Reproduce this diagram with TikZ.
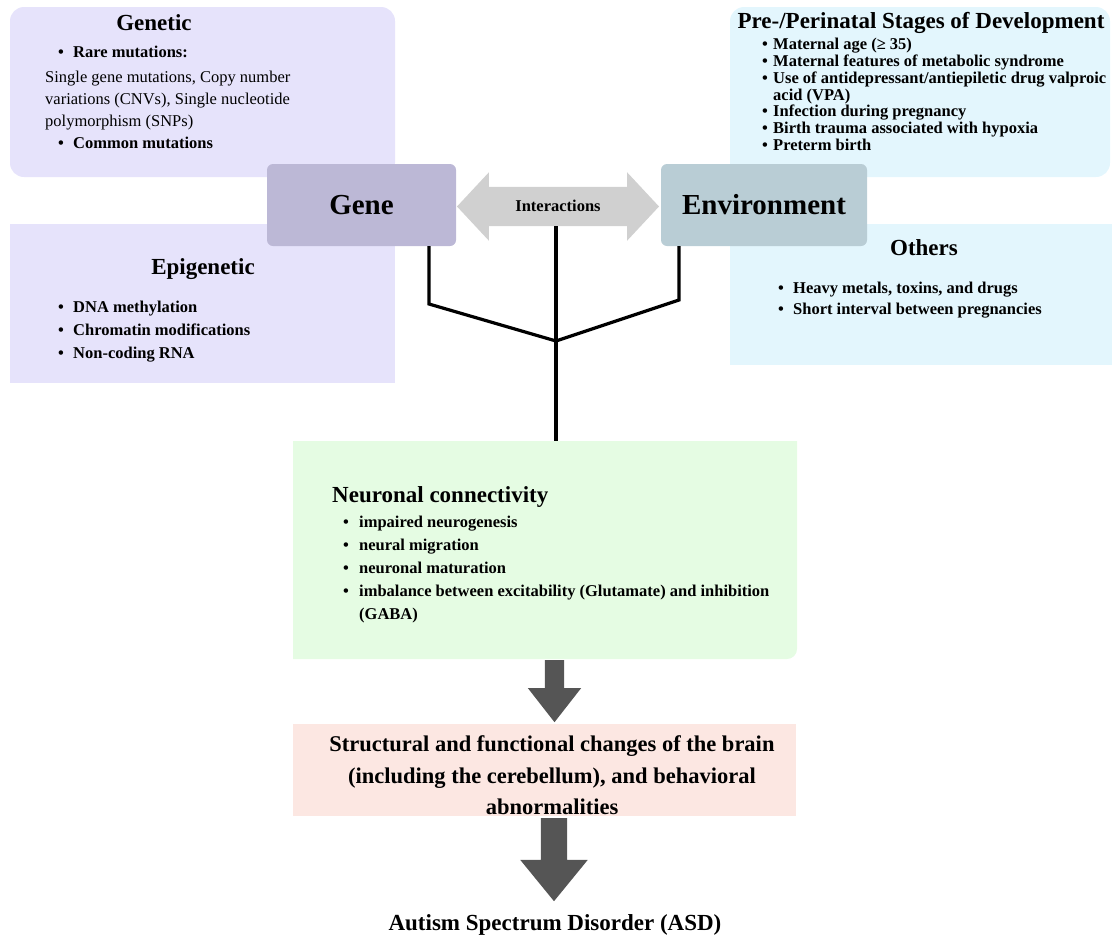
\documentclass[tikz,border=0pt]{standalone}
\usepackage{fontspec}
\setmainfont{Liberation Serif}
\usetikzlibrary{shapes.arrows,calc}
\definecolor{lavbg}{RGB}{230,227,251}
\definecolor{cyanbg}{RGB}{227,246,253}
\definecolor{genefill}{RGB}{188,184,214}
\definecolor{envfill}{RGB}{185,205,213}
\definecolor{greenbg}{RGB}{229,252,227}
\definecolor{pinkbg}{RGB}{252,231,226}
\definecolor{ixgray}{RGB}{208,208,208}
\definecolor{downgray}{RGB}{85,85,85}
\newcommand\setfs[1]{\fontsize{#1}{#1}\selectfont}
\newcommand\bul[1]{\makebox[#1][l]{\textbullet}}

\begin{document}
\begin{tikzpicture}[x=1pt,y=-1pt,
  panel/.style={anchor=north west, inner sep=0pt, outer sep=0pt, draw=none},
  keybox/.style={inner sep=0pt, outer sep=0pt, rounded corners=6pt,
    minimum height=82pt, font=\bfseries\setfs{29}},
  ttl/.style={anchor=base, inner sep=0pt, font=\bfseries\setfs{23}},
  ln/.style={anchor=base west, inner sep=0pt, font=\bfseries\setfs{16.5}},
  lnr/.style={anchor=base west, inner sep=0pt, font=\setfs{16.5}},
  bigln/.style={anchor=base, inner sep=0pt, font=\bfseries\setfs{22.5}},
  link/.style={line width=3.2pt},
  downarrow/.style={single arrow, rotate=-90, fill=downgray, inner xsep=0pt,
    anchor=tail}
]
\useasboundingbox (0,0) rectangle (1114,935);

% --- background panels ---
\node[panel, fill=lavbg, rounded corners=14pt, minimum width=385pt, minimum height=170pt] (genetic) at (10,7) {};
\node[panel, fill=lavbg, minimum width=385pt, minimum height=159pt] (epi) at (10,224) {};
\node[panel, fill=cyanbg, rounded corners=14pt, minimum width=380pt, minimum height=170pt] (pre) at (730,7) {};
\node[panel, fill=cyanbg, minimum width=382pt, minimum height=141pt] (others) at (730,224) {};
\node[panel, minimum width=504pt, minimum height=218pt] (neuro) at (293,441) {};
% neuronal panel: square corners except the lower right one
\fill[greenbg] (neuro.north west) -- (neuro.north east)
  -- ($(neuro.south east)+(0,-10)$) arc[start angle=0, end angle=-90, radius=10pt]
  -- (neuro.south west) -- cycle;
\node[panel, fill=pinkbg, minimum width=503pt, minimum height=92pt] (brain) at (293,724) {};

% --- Genetic ---
\node[ttl] (genT) at (154,30) {Genetic};
\node[ln]  (gen1) at (58,57) {\bul{15pt}Rare mutations:};
\node[lnr] (gen2) at (45,82) {Single gene mutations, Copy number};
\node[lnr] (gen3) at (45,104) {variations (CNVs), Single nucleotide};
\node[lnr] (gen4) at (45,126) {polymorphism (SNPs)};
\node[ln]  (gen5) at (58,148) {\bul{15pt}Common mutations};

% --- Epigenetic ---
\node[ttl] (epiT) at (203,274) {Epigenetic};
\node[ln] (epi1) at (58,312) {\bul{15pt}DNA methylation};
\node[ln] (epi2) at (58,335) {\bul{15pt}Chromatin modifications};
\node[ln] (epi3) at (58,358) {\bul{15pt}Non-coding RNA};

% --- Pre-/Perinatal ---
\node[ttl] (preT) at (921,28) {Pre-/Perinatal Stages of Development};
\node[ln] (pre1) at (762,49) {\bul{11pt}Maternal age (≥ 35)};
\node[ln] (pre2) at (762,66) {\bul{11pt}Maternal features of metabolic syndrome};
\node[ln] (pre3) at (762,83) {\bul{11pt}Use of antidepressant/antiepiletic drug valproic};
\node[ln] (pre4) at (773,100) {acid (VPA)};
\node[ln] (pre5) at (762,116) {\bul{11pt}Infection during pregnancy};
\node[ln] (pre6) at (762,133) {\bul{11pt}Birth trauma associated with hypoxia};
\node[ln] (pre7) at (762,150) {\bul{11pt}Preterm birth};

% --- Others ---
\node[ttl] (othT) at (924,255) {Others};
\node[ln] (oth1) at (778,293) {\bul{15pt}Heavy metals, toxins, and drugs};
\node[ln] (oth2) at (778,314) {\bul{15pt}Short interval between pregnancies};

% --- Gene / Environment and their interaction ---
\node[keybox, fill=genefill, minimum width=189pt] (gene) at (361.5,205) {Gene};
\node[keybox, fill=envfill, minimum width=206pt] (env) at (764,205) {Environment};
\node[double arrow, fill=ixgray, font=\bfseries\setfs{16.5}, inner xsep=0pt,
  inner ysep=12pt, text height=12pt, text depth=3pt, minimum height=202pt,
  double arrow head extend=14.5pt, double arrow tip angle=94] (inter) at (558,206.5) {Interactions};

% --- converging links ---
\coordinate (hub) at (556,341);
\coordinate (lk) at (429,304);
\coordinate (rk) at (679,300);
\draw[link] (lk |- gene.south) -- (lk) -- (hub);
\draw[link] (rk |- env.south) -- (rk) -- (hub);
\draw[link] (hub |- inter.south) -- (hub |- neuro.north);

% --- Neuronal connectivity ---
\node[anchor=base west, inner sep=0pt, font=\bfseries\setfs{23}] (neuT) at (332,502) {Neuronal connectivity};
\node[ln] (neu1) at (343,527) {\bul{16pt}impaired neurogenesis};
\node[ln] (neu2) at (343,550) {\bul{16pt}neural migration};
\node[ln] (neu3) at (343,573) {\bul{16pt}neuronal maturation};
\node[ln] (neu4) at (343,596) {\bul{16pt}imbalance between excitability (Glutamate) and inhibition};
\node[ln] (neu5) at (359,619) {(GABA)};

% --- outcome chain ---
\node[downarrow, inner ysep=9.5pt, minimum height=62pt,
  single arrow head extend=17pt, single arrow tip angle=76] (down1) at ($(neuro.south)+(9.5,1)$) {};
\node[bigln] (br1) at (552,751) {Structural and functional changes of the brain};
\node[bigln] (br2) at (552,783) {(including the cerebellum), and behavioral};
\node[bigln] (br3) at (552,814) {abnormalities};
\node[downarrow, inner ysep=13pt, minimum height=83pt,
  single arrow head extend=20.5pt, single arrow tip angle=78.5] (down2) at ($(brain.south)+(9.5,2)$) {};
\node[anchor=base, inner sep=0pt, font=\bfseries\setfs{23}] (asd) at (555,930) {Autism Spectrum Disorder (ASD)};
\end{tikzpicture}
\end{document}
